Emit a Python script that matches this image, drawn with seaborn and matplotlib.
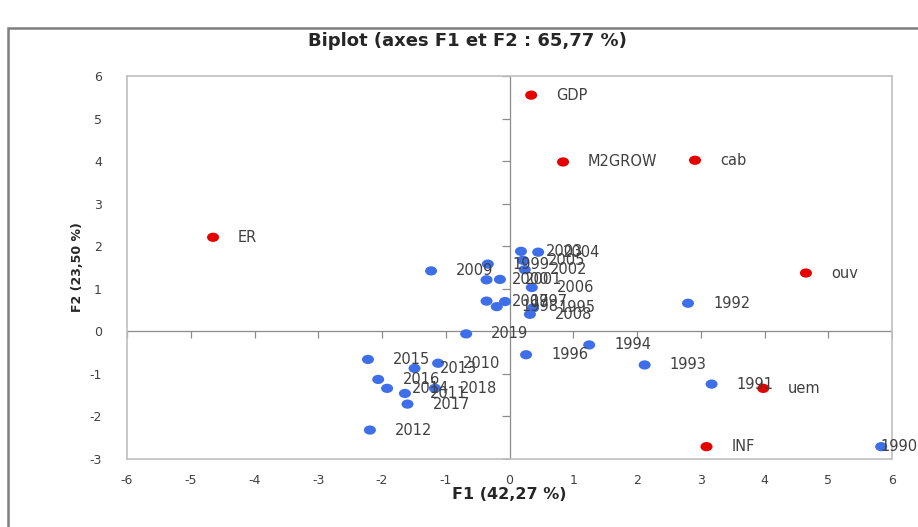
import matplotlib
matplotlib.use("Agg")
import matplotlib.pyplot as plt
import matplotlib.markers as mmarkers
import matplotlib.transforms as mtrans
from matplotlib.path import Path
from matplotlib.patches import Rectangle
import seaborn as sns
import pandas as pd

# ---- data ----
obs_labels = ["1990", "1991", "1992", "1993", "1994", "1995", "1996", "1997", "1998", "1999",
              "2000", "2001", "2002", "2003", "2004", "2005", "2006", "2007", "2008", "2009",
              "2010", "2011", "2012", "2013", "2014", "2015", "2016", "2017", "2018", "2019"]
obs_f1 = [5.83, 3.17, 2.80, 2.12, 1.25, 0.37, 0.26, -0.07, -0.20, -0.34,
          -0.36, -0.15, 0.24, 0.18, 0.45, 0.21, 0.35, -0.36, 0.32, -1.23,
          -1.12, -1.64, -2.19, -1.49, -1.92, -2.22, -2.06, -1.60, -1.17, -0.68]
obs_f2 = [-2.71, -1.24, 0.66, -0.79, -0.32, 0.55, -0.55, 0.70, 0.58, 1.58,
          1.21, 1.22, 1.45, 1.88, 1.86, 1.67, 1.03, 0.71, 0.40, 1.42,
          -0.75, -1.46, -2.32, -0.87, -1.34, -0.66, -1.13, -1.71, -1.34, -0.06]

var_labels = ["GDP", "M2GROW", "cab", "ER", "ouv", "uem", "INF"]
var_f1 = [0.34, 0.84, 2.91, -4.65, 4.65, 3.98, 3.09]
var_f2 = [5.55, 3.98, 4.02, 2.21, 1.37, -1.34, -2.71]

x_ticks = list(range(-6, 7))
y_ticks = list(range(-3, 7))

title = "Biplot (axes F1 et F2 : 65,77 %)"
xlabel = "F1 (42,27 %)"
ylabel = "F2 (23,50 %)"

# ---- build table ----
df = pd.concat([
    pd.DataFrame({"F1": obs_f1, "F2": obs_f2, "label": obs_labels, "kind": "obs"}),
    pd.DataFrame({"F1": var_f1, "F2": var_f2, "label": var_labels, "kind": "var"}),
], ignore_index=True)

sns.set_style("white")
plt.rcParams["font.family"] = ["DejaVu Sans"]
plt.rcParams["axes.unicode_minus"] = False

W, H = 918, 527
fig = plt.figure(figsize=(W / 100, H / 100), dpi=100)
ax = fig.add_axes([127 / W, 1 - 459 / H, (892 - 127) / W, (459 - 76) / H])

# outer chart frame
fig.patches.append(Rectangle((8 / W, -0.05), 1.0, (H - 28) / H + 0.05,
                             transform=fig.transFigure, fill=False,
                             edgecolor="#7f7f7f", linewidth=1.8))

# zero axes with cross ticks
ax.axhline(0, color="#8c8c8c", lw=0.9, zorder=1)
ax.axvline(0, color="#8c8c8c", lw=0.9, zorder=1)
ax.plot(x_ticks, [0] * len(x_ticks), linestyle="none", marker=mmarkers.TICKDOWN,
        markersize=5, color="#8c8c8c", markeredgewidth=0.9, zorder=1)
ax.plot([0] * len(y_ticks), y_ticks, linestyle="none", marker=mmarkers.TICKLEFT,
        markersize=6, color="#8c8c8c", markeredgewidth=0.9, zorder=1)

ellipse = Path.unit_circle().transformed(mtrans.Affine2D().scale(1.3, 1.0))
sns.scatterplot(data=df, x="F1", y="F2", hue="kind",
                palette={"obs": "#3f6fe8", "var": "#e60000"},
                s=75, edgecolor="none", legend=False, ax=ax, zorder=3,
                marker=ellipse)

texts = []
for _, r in df.iterrows():
    t = ax.annotate(r["label"], (r["F1"], r["F2"]), xytext=(18, 0),
                    textcoords="offset points", ha="left", va="center",
                    fontsize=10.5, color="#404040", zorder=4,
                    annotation_clip=False)
    texts.append(t)

ax.set_xlim(-6, 6)
ax.set_ylim(-3, 6)
ax.set_xticks(x_ticks)
ax.set_yticks(y_ticks)
ax.tick_params(length=0, labelsize=9, colors="#404040")
ax.tick_params(axis="x", pad=11)
ax.tick_params(axis="y", pad=18)
for s in ax.spines.values():
    s.set_color("#bfbfbf")
    s.set_linewidth(1.2)

ax.set_xlabel(xlabel, fontsize=11.5, fontweight="bold", labelpad=0, color="#262626")
ax.set_ylabel(ylabel, fontsize=9, fontweight="bold", labelpad=4, color="#262626")
fig.text(467 / W, 1 - 41 / H, title, ha="center", va="center",
         fontsize=13, fontweight="bold", color="#262626")

# keep labels inside the chart area (as the spreadsheet does)
fig.canvas.draw()
renderer = fig.canvas.get_renderer()
for t in texts:
    bb = t.get_window_extent(renderer)
    if bb.x1 > W:
        shift_pt = (bb.x1 - W) * 72 / 100
        t.xyann = (18 - shift_pt, 0)

fig.savefig("out.png", dpi=100)
